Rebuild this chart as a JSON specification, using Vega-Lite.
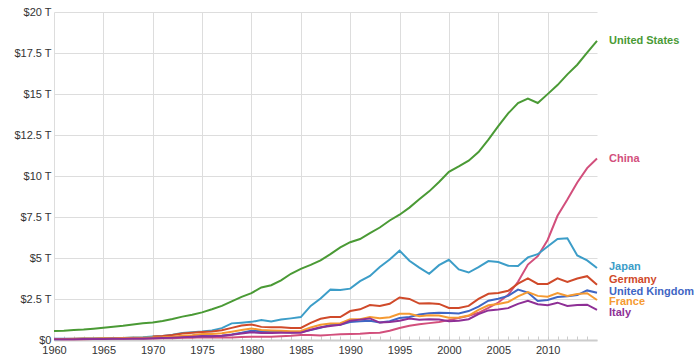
{
  "$schema": "https://vega.github.io/schema/vega-lite/v6.json",
  "width": 543,
  "height": 328,
  "autosize": {"type": "none"},
  "padding": {"left": 54, "top": 12, "right": 103, "bottom": 22},
  "background": "white",
  "config": {
    "view": {"stroke": null},
    "font": "Liberation Sans",
    "axis": {"labelFont": "Liberation Sans", "labelFontSize": 11, "labelColor": "#333", "gridColor": "#dddddd", "gridWidth": 1}
  },
  "datasets": {
    "gdp": [
      {"country":"United States","year":1960,"v":0.543},{"country":"United States","year":1961,"v":0.563},{"country":"United States","year":1962,"v":0.605},{"country":"United States","year":1963,"v":0.638},{"country":"United States","year":1964,"v":0.686},{"country":"United States","year":1965,"v":0.744},{"country":"United States","year":1966,"v":0.815},{"country":"United States","year":1967,"v":0.862},{"country":"United States","year":1968,"v":0.943},{"country":"United States","year":1969,"v":1.020},{"country":"United States","year":1970,"v":1.073},{"country":"United States","year":1971,"v":1.165},{"country":"United States","year":1972,"v":1.280},{"country":"United States","year":1973,"v":1.425},{"country":"United States","year":1974,"v":1.545},{"country":"United States","year":1975,"v":1.684},{"country":"United States","year":1976,"v":1.873},{"country":"United States","year":1977,"v":2.082},{"country":"United States","year":1978,"v":2.352},{"country":"United States","year":1979,"v":2.627},{"country":"United States","year":1980,"v":2.857},{"country":"United States","year":1981,"v":3.207},{"country":"United States","year":1982,"v":3.343},{"country":"United States","year":1983,"v":3.634},{"country":"United States","year":1984,"v":4.037},{"country":"United States","year":1985,"v":4.339},{"country":"United States","year":1986,"v":4.580},{"country":"United States","year":1987,"v":4.855},{"country":"United States","year":1988,"v":5.236},{"country":"United States","year":1989,"v":5.642},{"country":"United States","year":1990,"v":5.963},{"country":"United States","year":1991,"v":6.158},{"country":"United States","year":1992,"v":6.520},{"country":"United States","year":1993,"v":6.859},{"country":"United States","year":1994,"v":7.287},{"country":"United States","year":1995,"v":7.640},{"country":"United States","year":1996,"v":8.073},{"country":"United States","year":1997,"v":8.578},{"country":"United States","year":1998,"v":9.063},{"country":"United States","year":1999,"v":9.631},{"country":"United States","year":2000,"v":10.252},{"country":"United States","year":2001,"v":10.582},{"country":"United States","year":2002,"v":10.936},{"country":"United States","year":2003,"v":11.458},{"country":"United States","year":2004,"v":12.214},{"country":"United States","year":2005,"v":13.037},{"country":"United States","year":2006,"v":13.815},{"country":"United States","year":2007,"v":14.452},{"country":"United States","year":2008,"v":14.713},{"country":"United States","year":2009,"v":14.449},{"country":"United States","year":2010,"v":14.992},{"country":"United States","year":2011,"v":15.543},{"country":"United States","year":2012,"v":16.197},{"country":"United States","year":2013,"v":16.785},{"country":"United States","year":2014,"v":17.527},{"country":"United States","year":2015,"v":18.238},
      {"country":"China","year":1960,"v":0.0597},{"country":"China","year":1961,"v":0.0500},{"country":"China","year":1962,"v":0.0472},{"country":"China","year":1963,"v":0.0507},{"country":"China","year":1964,"v":0.0597},{"country":"China","year":1965,"v":0.0704},{"country":"China","year":1966,"v":0.0767},{"country":"China","year":1967,"v":0.0729},{"country":"China","year":1968,"v":0.0709},{"country":"China","year":1969,"v":0.0797},{"country":"China","year":1970,"v":0.0926},{"country":"China","year":1971,"v":0.0998},{"country":"China","year":1972,"v":0.1136},{"country":"China","year":1973,"v":0.1385},{"country":"China","year":1974,"v":0.1442},{"country":"China","year":1975,"v":0.1634},{"country":"China","year":1976,"v":0.1539},{"country":"China","year":1977,"v":0.1749},{"country":"China","year":1978,"v":0.1495},{"country":"China","year":1979,"v":0.1783},{"country":"China","year":1980,"v":0.1911},{"country":"China","year":1981,"v":0.1958},{"country":"China","year":1982,"v":0.2051},{"country":"China","year":1983,"v":0.2303},{"country":"China","year":1984,"v":0.2599},{"country":"China","year":1985,"v":0.3094},{"country":"China","year":1986,"v":0.3008},{"country":"China","year":1987,"v":0.2729},{"country":"China","year":1988,"v":0.3124},{"country":"China","year":1989,"v":0.3478},{"country":"China","year":1990,"v":0.3609},{"country":"China","year":1991,"v":0.3834},{"country":"China","year":1992,"v":0.4269},{"country":"China","year":1993,"v":0.4447},{"country":"China","year":1994,"v":0.5643},{"country":"China","year":1995,"v":0.7343},{"country":"China","year":1996,"v":0.8637},{"country":"China","year":1997,"v":0.9615},{"country":"China","year":1998,"v":1.029},{"country":"China","year":1999,"v":1.094},{"country":"China","year":2000,"v":1.211},{"country":"China","year":2001,"v":1.339},{"country":"China","year":2002,"v":1.471},{"country":"China","year":2003,"v":1.660},{"country":"China","year":2004,"v":1.955},{"country":"China","year":2005,"v":2.286},{"country":"China","year":2006,"v":2.752},{"country":"China","year":2007,"v":3.552},{"country":"China","year":2008,"v":4.598},{"country":"China","year":2009,"v":5.110},{"country":"China","year":2010,"v":6.101},{"country":"China","year":2011,"v":7.573},{"country":"China","year":2012,"v":8.561},{"country":"China","year":2013,"v":9.607},{"country":"China","year":2014,"v":10.482},{"country":"China","year":2015,"v":11.065},
      {"country":"Japan","year":1960,"v":0.0443},{"country":"Japan","year":1961,"v":0.0537},{"country":"Japan","year":1962,"v":0.0607},{"country":"Japan","year":1963,"v":0.0698},{"country":"Japan","year":1964,"v":0.0818},{"country":"Japan","year":1965,"v":0.0910},{"country":"Japan","year":1966,"v":0.1056},{"country":"Japan","year":1967,"v":0.1238},{"country":"Japan","year":1968,"v":0.1469},{"country":"Japan","year":1969,"v":0.1720},{"country":"Japan","year":1970,"v":0.2127},{"country":"Japan","year":1971,"v":0.2402},{"country":"Japan","year":1972,"v":0.3180},{"country":"Japan","year":1973,"v":0.4320},{"country":"Japan","year":1974,"v":0.4798},{"country":"Japan","year":1975,"v":0.5216},{"country":"Japan","year":1976,"v":0.5862},{"country":"Japan","year":1977,"v":0.7214},{"country":"Japan","year":1978,"v":1.0136},{"country":"Japan","year":1979,"v":1.0555},{"country":"Japan","year":1980,"v":1.1054},{"country":"Japan","year":1981,"v":1.2181},{"country":"Japan","year":1982,"v":1.1345},{"country":"Japan","year":1983,"v":1.2434},{"country":"Japan","year":1984,"v":1.3188},{"country":"Japan","year":1985,"v":1.3986},{"country":"Japan","year":1986,"v":2.0785},{"country":"Japan","year":1987,"v":2.5328},{"country":"Japan","year":1988,"v":3.0715},{"country":"Japan","year":1989,"v":3.0541},{"country":"Japan","year":1990,"v":3.1328},{"country":"Japan","year":1991,"v":3.5848},{"country":"Japan","year":1992,"v":3.9087},{"country":"Japan","year":1993,"v":4.4549},{"country":"Japan","year":1994,"v":4.9070},{"country":"Japan","year":1995,"v":5.4491},{"country":"Japan","year":1996,"v":4.8336},{"country":"Japan","year":1997,"v":4.4146},{"country":"Japan","year":1998,"v":4.0324},{"country":"Japan","year":1999,"v":4.5623},{"country":"Japan","year":2000,"v":4.8875},{"country":"Japan","year":2001,"v":4.3035},{"country":"Japan","year":2002,"v":4.1151},{"country":"Japan","year":2003,"v":4.4456},{"country":"Japan","year":2004,"v":4.8151},{"country":"Japan","year":2005,"v":4.7554},{"country":"Japan","year":2006,"v":4.5303},{"country":"Japan","year":2007,"v":4.5153},{"country":"Japan","year":2008,"v":5.0379},{"country":"Japan","year":2009,"v":5.2314},{"country":"Japan","year":2010,"v":5.7001},{"country":"Japan","year":2011,"v":6.1575},{"country":"Japan","year":2012,"v":6.2032},{"country":"Japan","year":2013,"v":5.1557},{"country":"Japan","year":2014,"v":4.8504},{"country":"Japan","year":2015,"v":4.3949},
      {"country":"Germany","year":1970,"v":0.2151},{"country":"Germany","year":1971,"v":0.2495},{"country":"Germany","year":1972,"v":0.2998},{"country":"Germany","year":1973,"v":0.3984},{"country":"Germany","year":1974,"v":0.4459},{"country":"Germany","year":1975,"v":0.4889},{"country":"Germany","year":1976,"v":0.5199},{"country":"Germany","year":1977,"v":0.6003},{"country":"Germany","year":1978,"v":0.7403},{"country":"Germany","year":1979,"v":0.8817},{"country":"Germany","year":1980,"v":0.9501},{"country":"Germany","year":1981,"v":0.8002},{"country":"Germany","year":1982,"v":0.7768},{"country":"Germany","year":1983,"v":0.7705},{"country":"Germany","year":1984,"v":0.7252},{"country":"Germany","year":1985,"v":0.7323},{"country":"Germany","year":1986,"v":1.0470},{"country":"Germany","year":1987,"v":1.2950},{"country":"Germany","year":1988,"v":1.4013},{"country":"Germany","year":1989,"v":1.3989},{"country":"Germany","year":1990,"v":1.7648},{"country":"Germany","year":1991,"v":1.8691},{"country":"Germany","year":1992,"v":2.1310},{"country":"Germany","year":1993,"v":2.0713},{"country":"Germany","year":1994,"v":2.2059},{"country":"Germany","year":1995,"v":2.5918},{"country":"Germany","year":1996,"v":2.5039},{"country":"Germany","year":1997,"v":2.2189},{"country":"Germany","year":1998,"v":2.2438},{"country":"Germany","year":1999,"v":2.1995},{"country":"Germany","year":2000,"v":1.9500},{"country":"Germany","year":2001,"v":1.9505},{"country":"Germany","year":2002,"v":2.0790},{"country":"Germany","year":2003,"v":2.5052},{"country":"Germany","year":2004,"v":2.8193},{"country":"Germany","year":2005,"v":2.8615},{"country":"Germany","year":2006,"v":3.0026},{"country":"Germany","year":2007,"v":3.4397},{"country":"Germany","year":2008,"v":3.7523},{"country":"Germany","year":2009,"v":3.4184},{"country":"Germany","year":2010,"v":3.4171},{"country":"Germany","year":2011,"v":3.7577},{"country":"Germany","year":2012,"v":3.5439},{"country":"Germany","year":2013,"v":3.7525},{"country":"Germany","year":2014,"v":3.8905},{"country":"Germany","year":2015,"v":3.3756},
      {"country":"United Kingdom","year":1960,"v":0.0724},{"country":"United Kingdom","year":1961,"v":0.0767},{"country":"United Kingdom","year":1962,"v":0.0806},{"country":"United Kingdom","year":1963,"v":0.0859},{"country":"United Kingdom","year":1964,"v":0.0940},{"country":"United Kingdom","year":1965,"v":0.1012},{"country":"United Kingdom","year":1966,"v":0.1075},{"country":"United Kingdom","year":1967,"v":0.1112},{"country":"United Kingdom","year":1968,"v":0.1049},{"country":"United Kingdom","year":1969,"v":0.1126},{"country":"United Kingdom","year":1970,"v":0.1247},{"country":"United Kingdom","year":1971,"v":0.1403},{"country":"United Kingdom","year":1972,"v":0.1602},{"country":"United Kingdom","year":1973,"v":0.1781},{"country":"United Kingdom","year":1974,"v":0.1983},{"country":"United Kingdom","year":1975,"v":0.2370},{"country":"United Kingdom","year":1976,"v":0.2316},{"country":"United Kingdom","year":1977,"v":0.2633},{"country":"United Kingdom","year":1978,"v":0.3352},{"country":"United Kingdom","year":1979,"v":0.4388},{"country":"United Kingdom","year":1980,"v":0.5647},{"country":"United Kingdom","year":1981,"v":0.5400},{"country":"United Kingdom","year":1982,"v":0.5150},{"country":"United Kingdom","year":1983,"v":0.4893},{"country":"United Kingdom","year":1984,"v":0.4614},{"country":"United Kingdom","year":1985,"v":0.4896},{"country":"United Kingdom","year":1986,"v":0.6014},{"country":"United Kingdom","year":1987,"v":0.7456},{"country":"United Kingdom","year":1988,"v":0.9106},{"country":"United Kingdom","year":1989,"v":0.9266},{"country":"United Kingdom","year":1990,"v":1.0933},{"country":"United Kingdom","year":1991,"v":1.1425},{"country":"United Kingdom","year":1992,"v":1.1794},{"country":"United Kingdom","year":1993,"v":1.0612},{"country":"United Kingdom","year":1994,"v":1.1405},{"country":"United Kingdom","year":1995,"v":1.3352},{"country":"United Kingdom","year":1996,"v":1.4084},{"country":"United Kingdom","year":1997,"v":1.5532},{"country":"United Kingdom","year":1998,"v":1.6237},{"country":"United Kingdom","year":1999,"v":1.6615},{"country":"United Kingdom","year":2000,"v":1.6479},{"country":"United Kingdom","year":2001,"v":1.6235},{"country":"United Kingdom","year":2002,"v":1.7658},{"country":"United Kingdom","year":2003,"v":2.0381},{"country":"United Kingdom","year":2004,"v":2.3986},{"country":"United Kingdom","year":2005,"v":2.5203},{"country":"United Kingdom","year":2006,"v":2.6926},{"country":"United Kingdom","year":2007,"v":3.0744},{"country":"United Kingdom","year":2008,"v":2.8907},{"country":"United Kingdom","year":2009,"v":2.3828},{"country":"United Kingdom","year":2010,"v":2.4410},{"country":"United Kingdom","year":2011,"v":2.6199},{"country":"United Kingdom","year":2012,"v":2.6620},{"country":"United Kingdom","year":2013,"v":2.7399},{"country":"United Kingdom","year":2014,"v":3.0229},{"country":"United Kingdom","year":2015,"v":2.8854},
      {"country":"France","year":1960,"v":0.0623},{"country":"France","year":1961,"v":0.0674},{"country":"France","year":1962,"v":0.0759},{"country":"France","year":1963,"v":0.0850},{"country":"France","year":1964,"v":0.0948},{"country":"France","year":1965,"v":0.1019},{"country":"France","year":1966,"v":0.1104},{"country":"France","year":1967,"v":0.1189},{"country":"France","year":1968,"v":0.1297},{"country":"France","year":1969,"v":0.1408},{"country":"France","year":1970,"v":0.1484},{"country":"France","year":1971,"v":0.1653},{"country":"France","year":1972,"v":0.2033},{"country":"France","year":1973,"v":0.2646},{"country":"France","year":1974,"v":0.2861},{"country":"France","year":1975,"v":0.3607},{"country":"France","year":1976,"v":0.3719},{"country":"France","year":1977,"v":0.4114},{"country":"France","year":1978,"v":0.5069},{"country":"France","year":1979,"v":0.6130},{"country":"France","year":1980,"v":0.7011},{"country":"France","year":1981,"v":0.6154},{"country":"France","year":1982,"v":0.5843},{"country":"France","year":1983,"v":0.5586},{"country":"France","year":1984,"v":0.5303},{"country":"France","year":1985,"v":0.5533},{"country":"France","year":1986,"v":0.7656},{"country":"France","year":1987,"v":0.9318},{"country":"France","year":1988,"v":1.0079},{"country":"France","year":1989,"v":1.0258},{"country":"France","year":1990,"v":1.2691},{"country":"France","year":1991,"v":1.2695},{"country":"France","year":1992,"v":1.4012},{"country":"France","year":1993,"v":1.3224},{"country":"France","year":1994,"v":1.3934},{"country":"France","year":1995,"v":1.6014},{"country":"France","year":1996,"v":1.6058},{"country":"France","year":1997,"v":1.4523},{"country":"France","year":1998,"v":1.5036},{"country":"France","year":1999,"v":1.4925},{"country":"France","year":2000,"v":1.3623},{"country":"France","year":2001,"v":1.3766},{"country":"France","year":2002,"v":1.4942},{"country":"France","year":2003,"v":1.8402},{"country":"France","year":2004,"v":2.1159},{"country":"France","year":2005,"v":2.1962},{"country":"France","year":2006,"v":2.3189},{"country":"France","year":2007,"v":2.6577},{"country":"France","year":2008,"v":2.9183},{"country":"France","year":2009,"v":2.6902},{"country":"France","year":2010,"v":2.6426},{"country":"France","year":2011,"v":2.8619},{"country":"France","year":2012,"v":2.6838},{"country":"France","year":2013,"v":2.8110},{"country":"France","year":2014,"v":2.8524},{"country":"France","year":2015,"v":2.4382},
      {"country":"Italy","year":1960,"v":0.0403},{"country":"Italy","year":1961,"v":0.0446},{"country":"Italy","year":1962,"v":0.0502},{"country":"Italy","year":1963,"v":0.0578},{"country":"Italy","year":1964,"v":0.0630},{"country":"Italy","year":1965,"v":0.0675},{"country":"Italy","year":1966,"v":0.0729},{"country":"Italy","year":1967,"v":0.0804},{"country":"Italy","year":1968,"v":0.0874},{"country":"Italy","year":1969,"v":0.0974},{"country":"Italy","year":1970,"v":0.1135},{"country":"Italy","year":1971,"v":0.1247},{"country":"Italy","year":1972,"v":0.1448},{"country":"Italy","year":1973,"v":0.1730},{"country":"Italy","year":1974,"v":0.1952},{"country":"Italy","year":1975,"v":0.2276},{"country":"Italy","year":1976,"v":0.2242},{"country":"Italy","year":1977,"v":0.2577},{"country":"Italy","year":1978,"v":0.3151},{"country":"Italy","year":1979,"v":0.3930},{"country":"Italy","year":1980,"v":0.4757},{"country":"Italy","year":1981,"v":0.4288},{"country":"Italy","year":1982,"v":0.4257},{"country":"Italy","year":1983,"v":0.4415},{"country":"Italy","year":1984,"v":0.4358},{"country":"Italy","year":1985,"v":0.4480},{"country":"Italy","year":1986,"v":0.6230},{"country":"Italy","year":1987,"v":0.7744},{"country":"Italy","year":1988,"v":0.8548},{"country":"Italy","year":1989,"v":0.9258},{"country":"Italy","year":1990,"v":1.1775},{"country":"Italy","year":1991,"v":1.2424},{"country":"Italy","year":1992,"v":1.3157},{"country":"Italy","year":1993,"v":1.0612},{"country":"Italy","year":1994,"v":1.0952},{"country":"Italy","year":1995,"v":1.1706},{"country":"Italy","year":1996,"v":1.3084},{"country":"Italy","year":1997,"v":1.2399},{"country":"Italy","year":1998,"v":1.2666},{"country":"Italy","year":1999,"v":1.2487},{"country":"Italy","year":2000,"v":1.1465},{"country":"Italy","year":2001,"v":1.1684},{"country":"Italy","year":2002,"v":1.2700},{"country":"Italy","year":2003,"v":1.5772},{"country":"Italy","year":2004,"v":1.8061},{"country":"Italy","year":2005,"v":1.8573},{"country":"Italy","year":2006,"v":1.9429},{"country":"Italy","year":2007,"v":2.2037},{"country":"Italy","year":2008,"v":2.3911},{"country":"Italy","year":2009,"v":2.1854},{"country":"Italy","year":2010,"v":2.1250},{"country":"Italy","year":2011,"v":2.2763},{"country":"Italy","year":2012,"v":2.0727},{"country":"Italy","year":2013,"v":2.1309},{"country":"Italy","year":2014,"v":2.1515},{"country":"Italy","year":2015,"v":1.8323}
    ]
  },
  "data": {"name": "gdp"},
  "encoding": {
    "x": {
      "field": "year", "type": "quantitative",
      "scale": {"domain": [1960, 2015], "nice": false, "zero": false},
      "axis": {
        "title": null,
        "values": [1960,1961,1962,1963,1964,1965,1966,1967,1968,1969,1970,1971,1972,1973,1974,1975,1976,1977,1978,1979,1980,1981,1982,1983,1984,1985,1986,1987,1988,1989,1990,1991,1992,1993,1994,1995,1996,1997,1998,1999,2000,2001,2002,2003,2004,2005,2006,2007,2008,2009,2010,2011,2012,2013,2014],
        "labelExpr": "datum.value % 5 == 0 ? datum.value + '' : ''",
        "labelFontSize": 11,
        "labelPadding": 8,
        "labelFlush": false,
        "labelOverlap": false,
        "tickSize": -4,
        "tickColor": "#cccccc",
        "domainColor": "#cccccc",
        "domainWidth": 2,
        "grid": true,
        "gridOpacity": {"condition": {"test": "datum.value % 5 == 0", "value": 1}, "value": 0}
      }
    },
    "y": {
      "field": "v", "type": "quantitative",
      "scale": {"domain": [0, 20], "nice": false},
      "axis": {
        "title": null,
        "values": [0, 2.5, 5, 7.5, 10, 12.5, 15, 17.5, 20],
        "labelExpr": "datum.value == 0 ? '$0' : '$' + datum.value + ' T'",
        "domain": false,
        "ticks": false,
        "labelPadding": 3,
        "labelFontSize": 11,
        "grid": true
      }
    },
    "color": {
      "field": "country", "type": "nominal", "legend": null,
      "scale": {
        "domain": ["United States", "China", "Japan", "Germany", "United Kingdom", "France", "Italy"],
        "range": ["#4a9a35", "#d24f7c", "#3c9dc8", "#d04a2a", "#3f66c4", "#f59a32", "#8e2f96"]
      }
    }
  },
  "layer": [
    {"mark": {"type": "line", "strokeWidth": 2, "clip": false}, "encoding": {"detail": {"field": "country"}}},
    {"transform": [{"filter": "datum.year == 2015 && (datum.country == 'United States' || datum.country == 'China')"}],
     "mark": {"type": "text", "align": "left", "baseline": "middle", "dx": 12, "fontWeight": "bold", "fontSize": 11, "font": "Liberation Sans"},
     "encoding": {"text": {"field": "country"}}},
    {"transform": [{"filter": "datum.year == 2015 && datum.country == 'Japan'"}],
     "mark": {"type": "text", "align": "left", "baseline": "middle", "dx": 12, "dy": -1, "fontWeight": "bold", "fontSize": 11, "font": "Liberation Sans"},
     "encoding": {"text": {"field": "country"}}},
    {"transform": [{"filter": "datum.year == 2015 && datum.country == 'Germany'"}],
     "mark": {"type": "text", "align": "left", "baseline": "middle", "dx": 12, "dy": -5, "fontWeight": "bold", "fontSize": 11, "font": "Liberation Sans"},
     "encoding": {"text": {"field": "country"}}},
    {"transform": [{"filter": "datum.year == 2015 && datum.country == 'United Kingdom'"}],
     "mark": {"type": "text", "align": "left", "baseline": "middle", "dx": 12, "dy": -1, "fontWeight": "bold", "fontSize": 11, "font": "Liberation Sans"},
     "encoding": {"text": {"field": "country"}}},
    {"transform": [{"filter": "datum.year == 2015 && datum.country == 'France'"}],
     "mark": {"type": "text", "align": "left", "baseline": "middle", "dx": 12, "dy": 2, "fontWeight": "bold", "fontSize": 11, "font": "Liberation Sans"},
     "encoding": {"text": {"field": "country"}}},
    {"transform": [{"filter": "datum.year == 2015 && datum.country == 'Italy'"}],
     "mark": {"type": "text", "align": "left", "baseline": "middle", "dx": 12, "dy": 3, "fontWeight": "bold", "fontSize": 11, "font": "Liberation Sans"},
     "encoding": {"text": {"field": "country"}}}
  ]
}
